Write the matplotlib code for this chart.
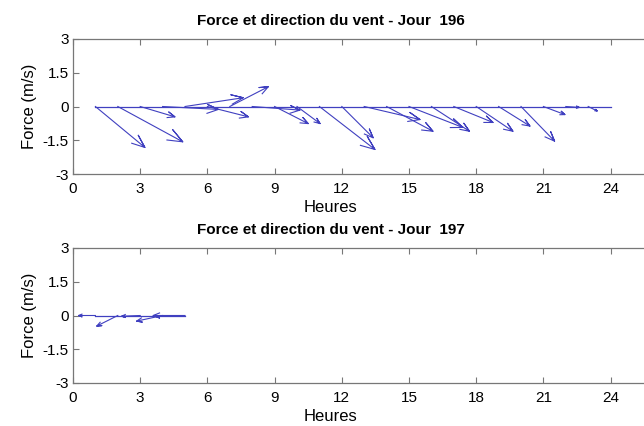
import numpy as np
import matplotlib.pyplot as plt

plt.rcParams['font.family'] = ['Liberation Sans', 'DejaVu Sans']

# -----------------------------
# Data (hourly wind vectors, m/s)
# -----------------------------
hours_196 = list(range(1, 25))
u_196 = [2.21, 2.90, 1.55, 2.49, 2.60, 1.83, 1.72, 2.13, 1.50, 1.03,
         2.48, 1.40, 2.49, 2.07, 2.40, 1.70, 1.75, 1.64, 1.40, 1.50,
         0.96, 0.60, 0.40, 0.0]
v_196 = [-1.82, -1.57, -0.46, -0.13, 0.39, -0.46, 0.88, -0.16, -0.76, -0.76,
         -1.91, -1.39, -0.58, -1.10, -0.93, -1.10, -0.71, -1.10, -0.87, -1.54,
         -0.36, -0.04, -0.20, 0.0]

hours_197 = [1, 2, 3, 4, 5]
u_197 = [-0.75, -0.94, -0.83, -1.16, -1.42]
v_197 = [0.0, -0.47, -0.03, -0.25, 0.0]

days = ["196", "197"]
xticks = [0, 3, 6, 9, 12, 15, 18, 21, 24]
yticks = [-3, -1.5, 0, 1.5, 3]
ytick_labels = ["-3", "-1.5", "0", "1.5", "3"]

color = "#4040c0"


def feather(ax, x, u, v):
    # MATLAB-like feather: arrows from (x, 0), head drawn in data units
    ax.plot([x[0], x[-1]], [0, 0], color=color, lw=0.9)
    xx = np.array([0, 1, 0.8, 1, 0.8])
    yy = np.array([0, 0, 0.08, 0, -0.08])
    for xi, ui, vi in zip(x, u, v):
        px = xi + xx * ui - yy * vi
        py = xx * vi + yy * ui
        ax.plot(px, py, color=color, lw=0.8)


fig = plt.figure(figsize=(6.44, 4.26), dpi=100)
W, H = 644, 426
x0 = 73
scale = 22.4  # px per hour
xmax = 26
width = xmax * scale

positions = [(39, 174), (248, 383)]
data = [(hours_196, u_196, v_196), (hours_197, u_197, v_197)]

for (top, bot), (x, u, v), day in zip(positions, data, days):
    ax = fig.add_axes([x0 / W, (H - bot) / H, width / W, (bot - top) / H])
    feather(ax, x, u, v)
    ax.set_xlim(0, xmax)
    ax.set_ylim(-3, 3)
    ax.set_xticks(xticks)
    ax.set_yticks(yticks)
    ax.set_yticklabels(ytick_labels)
    ax.tick_params(direction="in", top=True, right=True, length=4,
                   color="#777777", labelsize=11)
    ax.tick_params(axis="x", pad=6)
    ax.tick_params(axis="y", pad=3)
    for sp in ax.spines.values():
        sp.set_color("#777777")
        sp.set_linewidth(0.9)
    ax.set_title("Force et direction du vent - Jour  " + day,
                 fontsize=11, fontweight="bold", x=0.442, pad=10)
    ax.set_xlabel("Heures", fontsize=12)
    ax.xaxis.set_label_coords(0.442, -0.195)
    ax.set_ylabel("Force (m/s)", fontsize=12, labelpad=4)

fig.savefig("out.png", dpi=100)
